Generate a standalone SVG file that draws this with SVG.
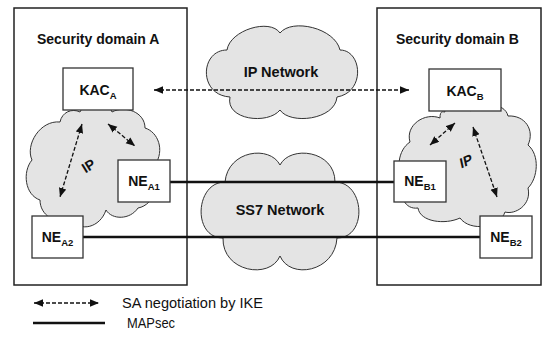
<svg xmlns="http://www.w3.org/2000/svg" width="547" height="340" viewBox="0 0 547 340">
  <style>
    .domain { fill: #ffffff; stroke: #222222; stroke-width: 1.5; }
    .cloud { fill: #e4e4e4; stroke: #333333; stroke-width: 1; }
    .box { fill: #ffffff; stroke: #333333; stroke-width: 1.3; }
    .lbl { font-family: "Liberation Sans", Arial, sans-serif; font-weight: bold; font-size: 14px; fill: #111111; }
    .net { font-size: 14.5px; }
    .sub { font-size: 9.5px; }
    .legend { font-family: "Liberation Sans", Arial, sans-serif; font-size: 14px; fill: #111111; }
    .ike { fill: none; stroke: #111111; stroke-width: 1.3; stroke-dasharray: 4 2; marker-start: url(#head); marker-end: url(#head); }
    .mapsec { fill: none; stroke: #111111; stroke-width: 2.6; }
  </style>
  <defs>
    <marker id="head" markerUnits="userSpaceOnUse" markerWidth="10" markerHeight="8" refX="9" refY="3.75" orient="auto-start-reverse">
      <path d="M0,0 L9,3.75 L0,7.5 z" fill="#111111"/>
    </marker>
  </defs>

  <rect width="547" height="340" fill="#ffffff"/>

  <!-- security domains -->
  <g id="domain-a">
    <rect class="domain" x="14" y="8" width="173" height="277"/>
    <text class="lbl" x="37" y="44">Security domain A</text>
  </g>
  <g id="domain-b">
    <rect class="domain" x="377" y="8" width="164" height="277"/>
    <text class="lbl" x="396" y="44">Security domain B</text>
  </g>

  <!-- networks -->
  <g id="ip-network">
    <path class="cloud" d="M 227 50 C 230 30, 270 18, 280 33 C 292 18, 335 28, 340 50 C 362 50, 366 92, 337 97 C 335 120, 290 125, 280 110 C 268 125, 225 120, 230 97 C 198 95, 200 50, 227 50 Z"/>
    <text class="lbl net" x="281" y="77" text-anchor="middle">IP Network</text>
  </g>
  <g id="ss7-network">
    <path class="cloud" d="M 225 182 C 228 150, 270 145, 280 165 C 290 145, 335 150, 335 182 C 365 182, 368 238, 337 238 C 335 272, 290 280, 280 256 C 270 280, 222 272, 223 238 C 192 238, 195 182, 225 182 Z"/>
    <text class="lbl net" x="280" y="215" text-anchor="middle">SS7 Network</text>
  </g>
  <g id="ip-a">
    <path class="cloud" d="M 80 112 C 85 100, 108 100, 112 112 C 125 105, 145 112, 145 128 C 158 132, 165 150, 155 165 C 162 180, 155 205, 138 208 C 130 220, 112 220, 106 210 C 100 228, 80 232, 72 220 C 55 225, 40 215, 40 200 C 25 195, 22 172, 32 160 C 25 145, 40 120, 60 122 C 62 112, 72 108, 80 112 Z"/>
    <text class="lbl" transform="translate(91 170) rotate(-32)" text-anchor="middle">IP</text>
  </g>
  <g id="ip-b">
    <path class="cloud" d="M 445 112 C 440 100, 465 98, 470 111 C 480 102, 505 102, 508 116 C 525 115, 535 130, 528 145 C 540 155, 538 178, 528 188 C 532 205, 515 215, 505 212 C 500 228, 470 232, 460 218 C 445 225, 420 222, 418 208 C 405 210, 398 195, 405 185 C 395 170, 398 150, 410 142 C 405 125, 425 112, 440 118 C 440 110, 443 112, 445 112 Z"/>
    <text class="lbl" transform="translate(467 166) rotate(-24) skewX(-12)" text-anchor="middle">IP</text>
  </g>

  <!-- connectors -->
  <g id="connectors">
    <line class="ike" x1="154" y1="90" x2="409" y2="90"/>
    <line class="ike" x1="82" y1="124" x2="60" y2="197"/>
    <line class="ike" x1="108" y1="124" x2="135" y2="146"/>
    <line class="ike" x1="455" y1="123" x2="430" y2="145"/>
    <line class="ike" x1="473" y1="127" x2="497" y2="197"/>
    <line class="mapsec" x1="170" y1="182" x2="394" y2="182"/>
    <line class="mapsec" x1="83" y1="237" x2="480" y2="237"/>
  </g>

  <!-- network elements -->
  <g id="kac-a">
    <rect class="box" x="63" y="68" width="70" height="42"/>
    <text class="lbl" x="98" y="95" text-anchor="middle">KAC<tspan class="sub" dy="4">A</tspan></text>
  </g>
  <g id="kac-b">
    <rect class="box" x="429" y="69" width="72" height="42"/>
    <text class="lbl" x="465" y="96" text-anchor="middle">KAC<tspan class="sub" dy="4">B</tspan></text>
  </g>
  <g id="ne-a1">
    <rect class="box" x="118" y="160" width="52" height="42"/>
    <text class="lbl" x="144" y="186" text-anchor="middle">NE<tspan class="sub" dy="4">A1</tspan></text>
  </g>
  <g id="ne-a2">
    <rect class="box" x="32" y="216" width="51" height="42"/>
    <text class="lbl" x="57.5" y="242" text-anchor="middle">NE<tspan class="sub" dy="4">A2</tspan></text>
  </g>
  <g id="ne-b1">
    <rect class="box" x="394" y="161" width="52" height="41"/>
    <text class="lbl" x="420" y="186" text-anchor="middle">NE<tspan class="sub" dy="4">B1</tspan></text>
  </g>
  <g id="ne-b2">
    <rect class="box" x="480" y="216" width="52" height="42"/>
    <text class="lbl" x="506" y="242" text-anchor="middle">NE<tspan class="sub" dy="4">B2</tspan></text>
  </g>

  <!-- legend -->
  <g id="legend">
    <line class="ike" x1="34" y1="303" x2="99" y2="303"/>
    <text class="legend" x="122" y="308" textLength="141" lengthAdjust="spacingAndGlyphs">SA negotiation by IKE</text>
    <line class="mapsec" x1="33" y1="323" x2="105" y2="323"/>
    <text class="legend" x="127" y="328" textLength="48" lengthAdjust="spacingAndGlyphs">MAPsec</text>
  </g>
</svg>
